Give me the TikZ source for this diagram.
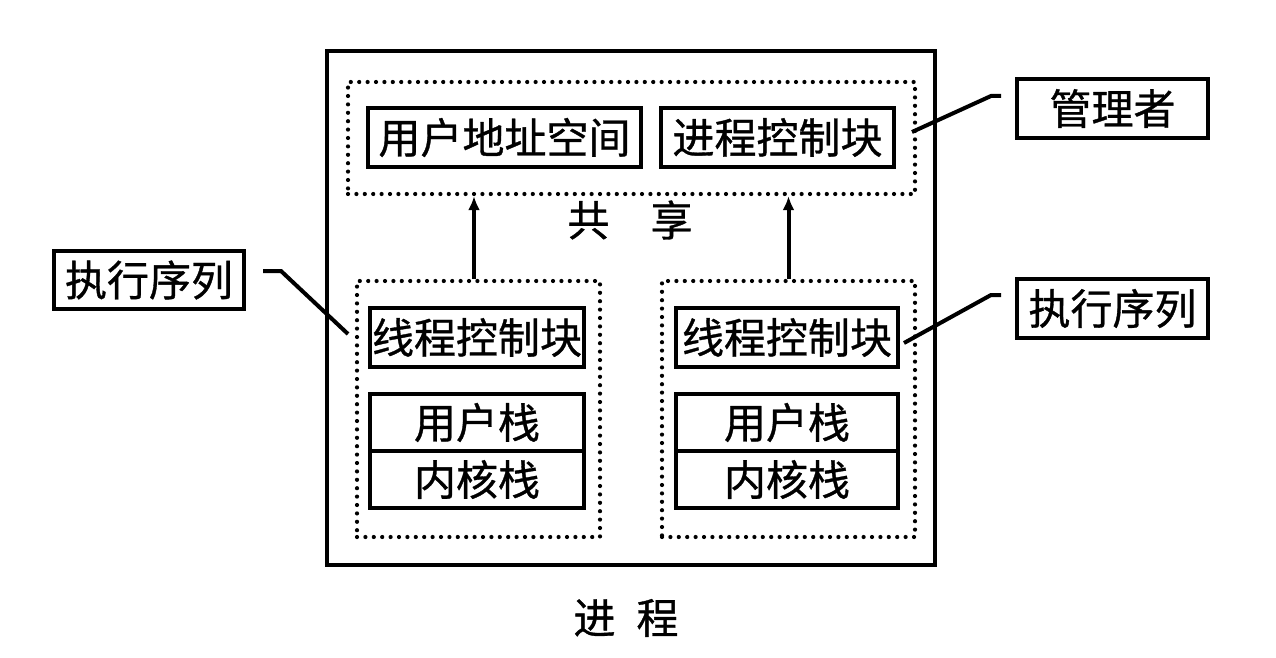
\documentclass[tikz,border=0pt]{standalone}
\usepackage{fontspec}
\setmainfont[FakeBold=0.8]{Noto Sans CJK SC}
\usetikzlibrary{arrows.meta,calc}
\begin{document}
\begin{tikzpicture}[x=1pt,y=-1pt,
  every node/.style={font=\fontsize{42}{50}\selectfont, inner sep=0pt},
  solidbox/.style={draw, line width=4pt, minimum width=#1},
  dotbox/.style={draw, line width=4.2pt, line cap=round, dash pattern=on 0pt off 8.4pt},
  link/.style={line width=4pt},
  share/.style={line width=4pt, -{Latex[length=14pt,width=12pt]}}
]
\useasboundingbox (0,0) rectangle (1276,658);
% outer process box
\node[draw, line width=4pt, minimum width=608pt, minimum height=514pt] (outer) at (631,308) {};
% shared area
\node[dotbox, minimum width=567pt, minimum height=112pt] (topdot) at (631.5,138) {};
\node[solidbox=273pt, minimum height=59pt] (uas) at (504.5,137.5) {用户地址空间};
\node[solidbox=233pt, minimum height=59pt] (pcb) at (777.5,137.5) {进程控制块};
\node (share) at (630,220) {共\hspace{0.98em}享};
% left thread
\node[dotbox, minimum width=243pt, minimum height=256pt] (ldot) at (478.5,409) {};
\node[solidbox=214pt, minimum height=59pt] (ltcb) at (477,337.5) {线程控制块};
\node[solidbox=214pt, minimum height=57pt] (lus) at (477,422.5) {用户栈};
\node[solidbox=214pt, minimum height=57pt] (lks) at (477,479.5) {内核栈};
% right thread
\node[dotbox, minimum width=253pt, minimum height=256pt] (rdot) at (788.5,409) {};
\node[solidbox=222pt, minimum height=59pt] (rtcb) at (787,337.5) {线程控制块};
\node[solidbox=222pt, minimum height=57pt] (rus) at (787,422.5) {用户栈};
\node[solidbox=222pt, minimum height=57pt] (rks) at (787,479.5) {内核栈};
% labels outside
\node[solidbox=191pt, minimum height=59pt] (mgr) at (1112.5,108.5) {管理者};
\node[solidbox=191pt, minimum height=59pt] (rexec) at (1112.5,308.5) {执行序列};
\node[solidbox=190pt, minimum height=58pt] (lexec) at (149,280) {执行序列};
\node (proc) at (626,618) {进\hspace{0.5em}程};
% sharing arrows
\draw[share] ([xshift=-4.5pt]ldot.north) -- ([xshift=-4.5pt]ldot.north |- topdot.south);
\draw[share] (rdot.north) -- (rdot.north |- topdot.south);
% callout lines
\draw[link] ($(pcb.east)+(16,-5.5)$) -- ($(mgr.west)+(-24,-12.5)$) -- ($(mgr.west)+(-14,-12.5)$);
\draw[link] ($(rtcb.east)+(4,5.5)$) -- ($(rexec.west)+(-24,-13.5)$) -- ($(rexec.west)+(-14,-13.5)$);
\draw[link] ($(lexec.east)+(17,-9)$) -- ($(lexec.east)+(35,-9)$) -- ($(ltcb.west)+(-20,-3.5)$);
\end{tikzpicture}
\end{document}
